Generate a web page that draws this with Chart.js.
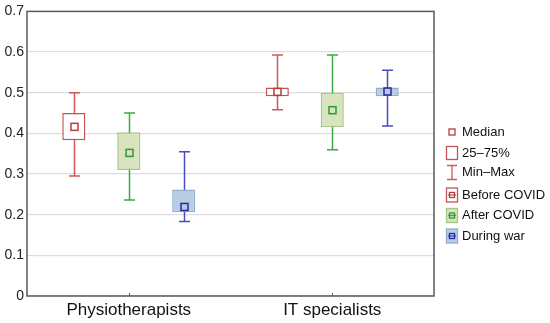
<!DOCTYPE html>
<html>
<head>
<meta charset="utf-8">
<script src="https://cdn.jsdelivr.net/npm/chart.js@4"></script>
<style>
  html, body { margin: 0; padding: 0; background: #fff; }
  #wrap { width: 550px; height: 323px; }
</style>
</head>
<body>
<div id="wrap"><canvas id="box-chart"></canvas></div>
<script>
// categories and series
const categories = ['Physiotherapists', 'IT specialists'];
const seriesNames = ['Before COVID', 'After COVID', 'During war'];

// Before COVID
const minBefore = [0.295, 0.458];
const q1Before = [0.383, 0.491];
const medBefore = [0.416, 0.502];
const q3Before = [0.450, 0.513];
const maxBefore = [0.500, 0.593];

// After COVID
const minAfter = [0.236, 0.360];
const q1After = [0.310, 0.415];
const medAfter = [0.352, 0.457];
const q3After = [0.403, 0.500];
const maxAfter = [0.450, 0.593];

// During war
const minWar = [0.183, 0.418];
const q1War = [0.206, 0.491];
const medWar = [0.219, 0.503];
const q3War = [0.262, 0.513];
const maxWar = [0.355, 0.555];

const yTicks = [0, 0.1, 0.2, 0.3, 0.4, 0.5, 0.6, 0.7];

const FONT = "'Liberation Sans', Arial, sans-serif";

const styles = [
    {line: '#cc5a5a', fill: '#ffffff', edge: '#c65452', med: '#b83c3c'},
    {line: '#3daa3d', fill: '#d7e4bd', edge: '#a9c487', med: '#2f9a2f'},
    {line: '#4a4ac2', fill: '#b8cce4', edge: '#8eaed4', med: '#2828a0'}
];

const stats = [
    {min: minBefore, q1: q1Before, med: medBefore, q3: q3Before, max: maxBefore},
    {min: minAfter, q1: q1After, med: medAfter, q3: q3After, max: maxAfter},
    {min: minWar, q1: q1War, med: medWar, q3: q3War, max: maxWar}
];

function boxData(s) {
    return s.q1.map((v, i) => [v, s.q3[i]]);
}

// whiskers under the boxes, medians + frame + legend on top
const boxPlugin = {
    id: 'boxExtras',
    beforeDatasetsDraw(chart) {
        const ctx = chart.ctx;
        const y = chart.scales.y;
        ctx.save();
        stats.forEach((s, di) => {
            const meta = chart.getDatasetMeta(di);
            ctx.strokeStyle = styles[di].line;
            ctx.lineWidth = 1.5;
            meta.data.forEach((bar, i) => {
                const x = Math.round(bar.x) + 0.5;
                const yMax = y.getPixelForValue(s.max[i]);
                const yMin = y.getPixelForValue(s.min[i]);
                ctx.beginPath();
                ctx.moveTo(x, yMax); ctx.lineTo(x, yMin);
                ctx.moveTo(x - 5.5, yMax); ctx.lineTo(x + 5.5, yMax);
                ctx.moveTo(x - 5.5, yMin); ctx.lineTo(x + 5.5, yMin);
                ctx.stroke();
            });
        });
        ctx.restore();
    },
    afterDatasetsDraw(chart) {
        const ctx = chart.ctx;
        const y = chart.scales.y;
        ctx.save();
        stats.forEach((s, di) => {
            const meta = chart.getDatasetMeta(di);
            ctx.strokeStyle = styles[di].med;
            ctx.lineWidth = 1.5;
            meta.data.forEach((bar, i) => {
                const x = Math.round(bar.x) + 0.5;
                const ym = y.getPixelForValue(s.med[i]);
                ctx.strokeRect(x - 3.5, ym - 3.5, 7, 7);
            });
        });
        ctx.restore();
    },
    afterDraw(chart) {
        const ctx = chart.ctx;
        const a = chart.chartArea;
        const xs = chart.scales.x;
        ctx.save();
        // frame
        ctx.strokeStyle = '#5a5a5a';
        ctx.lineWidth = 1.5;
        ctx.strokeRect(a.left, a.top, a.right - a.left, a.bottom - a.top);
        // category tick marks
        ctx.lineWidth = 1;
        categories.forEach((c, i) => {
            const x = Math.round(xs.getPixelForValue(i)) + 0.5;
            ctx.beginPath();
            ctx.moveTo(x, a.bottom);
            ctx.lineTo(x, a.bottom - 3);
            ctx.stroke();
        });

        // legend
        const lx = 452;
        ctx.font = '13px ' + FONT;
        ctx.fillStyle = '#111';
        ctx.textBaseline = 'middle';
        const red = styles[0];
        // Median
        ctx.strokeStyle = red.med;
        ctx.lineWidth = 1.3;
        ctx.strokeRect(lx - 3, 129, 6, 6);
        ctx.fillText('Median', 462, 132);
        // 25-75%
        ctx.strokeStyle = red.edge;
        ctx.strokeRect(lx - 5.5, 146.5, 11, 13);
        ctx.fillText('25\u201375%', 462, 153);
        // Min-Max
        ctx.strokeStyle = red.line;
        ctx.beginPath();
        ctx.moveTo(lx - 5, 165.5); ctx.lineTo(lx + 5, 165.5);
        ctx.moveTo(lx, 165.5); ctx.lineTo(lx, 179.5);
        ctx.moveTo(lx - 5, 179.5); ctx.lineTo(lx + 5, 179.5);
        ctx.stroke();
        ctx.fillText('Min\u2013Max', 462, 172);
        // series
        const ys = [195, 215.5, 236];
        seriesNames.forEach((name, i) => {
            const st = styles[i];
            const cy = ys[i];
            ctx.fillStyle = st.fill;
            ctx.fillRect(lx - 5.5, cy - 7, 11, 14);
            ctx.strokeStyle = st.edge;
            ctx.lineWidth = 1.3;
            ctx.strokeRect(lx - 5.5, cy - 7, 11, 14);
            ctx.strokeStyle = st.line;
            ctx.beginPath();
            ctx.moveTo(lx - 4, cy); ctx.lineTo(lx + 4, cy);
            ctx.stroke();
            ctx.strokeStyle = st.med;
            ctx.strokeRect(lx - 2.5, cy - 2.5, 5, 5);
            ctx.fillStyle = '#111';
            ctx.fillText(name, 462, cy);
        });
        ctx.restore();
    }
};

let boxChart = new Chart(document.getElementById('box-chart'), {
    type: 'bar',
    data: {
        labels: categories,
        datasets: stats.map((s, i) => ({
            label: seriesNames[i],
            data: boxData(s),
            backgroundColor: styles[i].fill,
            borderColor: styles[i].edge,
            borderWidth: 1.5,
            borderSkipped: false,
            categoryPercentage: 0.81,
            barPercentage: 0.42
        }))
    },
    options: {
        responsive: true,
        maintainAspectRatio: false,
        animation: false,
        layout: {padding: {top: 11, right: 116, left: 0, bottom: 0}},
        plugins: {
            legend: {display: false},
            tooltip: {enabled: false}
        },
        scales: {
            x: {
                grid: {display: false, drawTicks: false},
                border: {display: false},
                ticks: {font: {family: FONT, size: 17}, color: '#111', padding: 4},
                afterFit(scale) { scale.height = 27; }
            },
            y: {
                min: 0,
                max: 0.7,
                afterBuildTicks(scale) { scale.ticks = yTicks.map(v => ({value: v})); },
                grid: {color: '#dddddd', lineWidth: 1.2, drawTicks: false},
                border: {display: false},
                ticks: {
                    font: {family: FONT, size: 14},
                    color: '#222',
                    padding: 3,
                    callback: v => v === 0 ? '0' : v.toFixed(1)
                },
                afterFit(scale) { scale.width = 27; }
            }
        }
    },
    plugins: [boxPlugin]
});
</script>
</body>
</html>
